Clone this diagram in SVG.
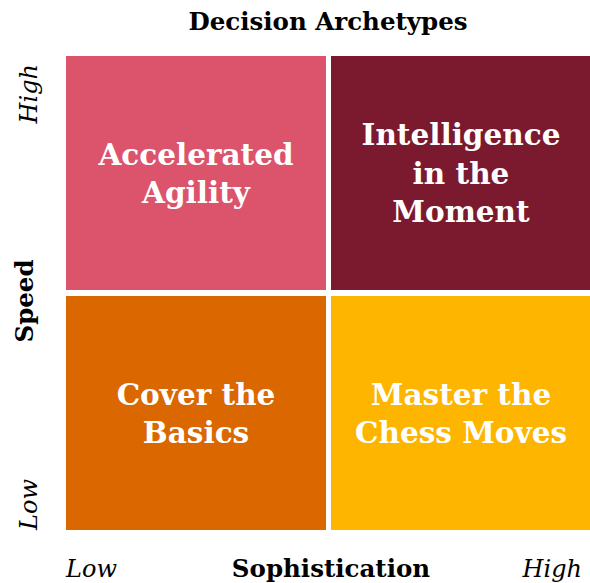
<svg xmlns="http://www.w3.org/2000/svg" width="590" height="583" viewBox="0 0 590 583">
<style>
.t{font-family:"DejaVu Serif","Liberation Serif",serif;font-weight:bold;fill:#000}
.q{font-family:"DejaVu Serif","Liberation Serif",serif;font-weight:bold;font-size:29.5px;fill:#fff;text-anchor:middle}
.i{font-family:"DejaVu Serif","Liberation Serif",serif;font-style:italic;font-size:24px;fill:#000}
</style>
<rect width="590" height="583" fill="#fff"/>
<text class="t" x="328" y="30" font-size="24.5" text-anchor="middle">Decision Archetypes</text>
<g id="q-accelerated-agility">
<rect x="66" y="56" width="260" height="234" fill="#DB546B"/>
<text class="q" x="196" y="165">Accelerated</text>
<text class="q" x="196" y="203">Agility</text>
</g>
<g id="q-intelligence">
<rect x="331" y="56" width="259" height="234" fill="#7B1A2E"/>
<text class="q" x="461" y="145">Intelligence</text>
<text class="q" x="461" y="184">in the</text>
<text class="q" x="461" y="222">Moment</text>
</g>
<g id="q-cover-basics">
<rect x="66" y="296" width="260" height="234" fill="#DA6700"/>
<text class="q" x="196" y="405">Cover the</text>
<text class="q" x="196" y="443">Basics</text>
</g>
<g id="q-chess-moves">
<rect x="331" y="296" width="259" height="234" fill="#FDB500"/>
<text class="q" x="461" y="405">Master the</text>
<text class="q" x="461" y="443">Chess Moves</text>
</g>
<g id="axes">
<text class="t" font-size="24.5" text-anchor="middle" transform="translate(33,301) rotate(-90)">Speed</text>
<text class="i" text-anchor="end" transform="translate(37,64) rotate(-90)">High</text>
<text class="i" text-anchor="start" transform="translate(37,530) rotate(-90)">Low</text>
<text class="t" font-size="24.5" x="331" y="577" text-anchor="middle">Sophistication</text>
<text class="i" x="66" y="577">Low</text>
<text class="i" x="582" y="577" text-anchor="end">High</text>
</g>
<g id="connectors"/>
</svg>
